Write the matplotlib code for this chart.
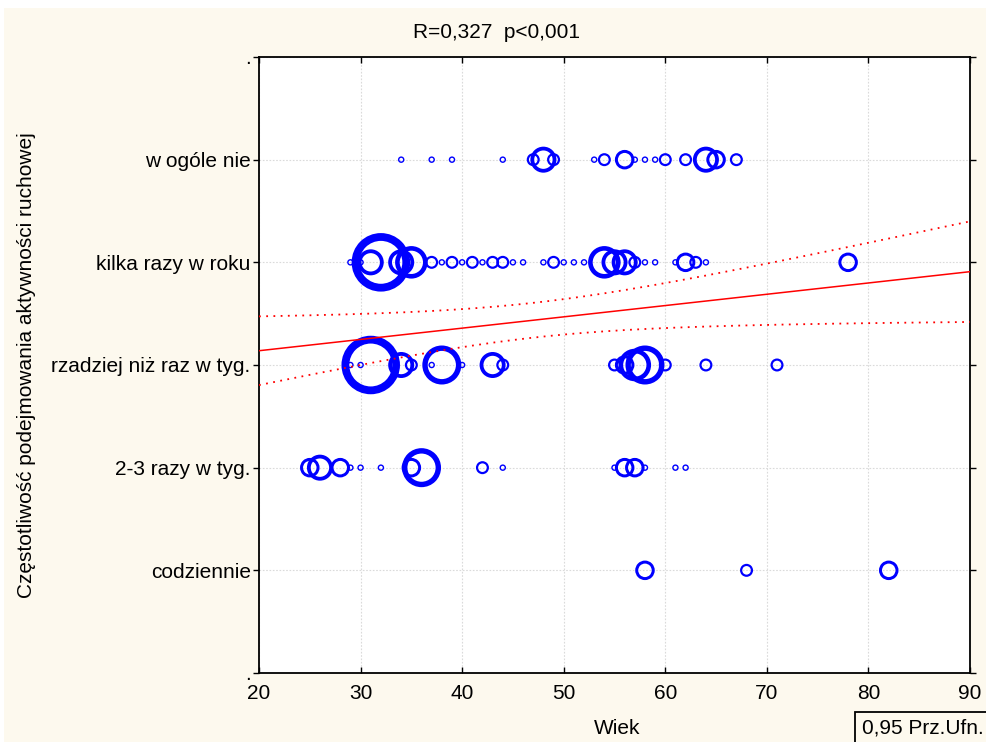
import numpy as np
import matplotlib.pyplot as plt
from matplotlib.patches import Rectangle

plt.rcParams['font.family'] = ['Liberation Sans', 'DejaVu Sans']

categories = ['codziennie', '2-3 razy w tyg.', 'rzadziej niż raz w tyg.',
              'kilka razy w roku', 'w ogóle nie']

# age -> number of respondents, one pair of lists per category
ages_codziennie = [58, 68, 82]
counts_codziennie = [3, 2, 3]
ages_2_3 = [25, 26, 28, 29, 30, 32, 35, 36, 42, 44, 55, 56, 57, 58, 61, 62]
counts_2_3 = [3, 4, 3, 1, 1, 1, 3, 6, 2, 1, 1, 3, 3, 1, 1, 1]
ages_rzadziej = [29, 30, 31, 34, 35, 37, 38, 40, 43, 44, 55, 56, 57, 58, 60, 64, 71]
counts_rzadziej = [1, 1, 9, 4, 2, 1, 6, 1, 4, 2, 2, 3, 5, 6, 2, 2, 2]
ages_kilka = [29, 30, 31, 32, 34, 35, 37, 38, 39, 40, 41, 42, 43, 44, 45, 46,
              48, 49, 50, 51, 52, 54, 55, 56, 57, 58, 59, 61, 62, 63, 64, 78]
counts_kilka = [1, 1, 4, 9, 4, 5, 2, 1, 2, 1, 2, 1, 2, 2, 1, 1,
                1, 2, 1, 1, 1, 5, 4, 4, 2, 1, 1, 1, 3, 2, 1, 3]
ages_nie = [34, 37, 39, 44, 47, 48, 49, 53, 54, 56, 57, 58, 59, 60, 62, 64, 65, 67]
counts_nie = [1, 1, 1, 1, 2, 4, 2, 1, 2, 3, 1, 1, 1, 2, 2, 4, 3, 2]

# linear fit and 0.95 confidence band
fit_intercept = 2.919
fit_slope = 0.011
ci_base = 0.0287
ci_spread = 1.143e-4
ci_center = 47.0

x_ticks = [20, 30, 40, 50, 60, 70, 80, 90]
title_text = 'R=0,327  p<0,001'
fs = 15

W, H = 987, 742
fig = plt.figure(figsize=(W / 100, H / 100), dpi=100, facecolor='white')
fig.patches.append(Rectangle((4 / W, 0), 1, 1 - 8 / H, transform=fig.transFigure,
                             facecolor='#fdf9ee', edgecolor='none', zorder=-10))
ax = fig.add_axes([259 / W, 1 - 673 / H, 711 / W, 616 / H])
ax.set_facecolor('white')

px_pt = 100 / 72.0
rows = [(ages_codziennie, counts_codziennie), (ages_2_3, counts_2_3),
        (ages_rzadziej, counts_rzadziej), (ages_kilka, counts_kilka),
        (ages_nie, counts_nie)]
for level, (ages, counts) in enumerate(rows, start=1):
    n = np.array(counts, dtype=float)
    lw_px = 0.6 + 0.8 * n
    diam_px = 6.5 * n - lw_px
    ax.scatter(ages, np.full(len(ages), level), s=(diam_px / px_pt) ** 2,
               facecolors='none', edgecolors='#0000ff',
               linewidths=lw_px / px_pt, zorder=3)

xs = np.linspace(20, 90, 200)
fit = fit_intercept + fit_slope * xs
half = np.sqrt(ci_base + ci_spread * (xs - ci_center) ** 2)
ax.plot(xs, fit, color='#ff0000', lw=1.1, zorder=4)
ax.plot(xs, fit + half, color='#ff0000', lw=1.3, ls=(0, (1, 3)), zorder=4)
ax.plot(xs, fit - half, color='#ff0000', lw=1.3, ls=(0, (1, 3)), zorder=4)

ax.set_xlim(20, 90)
ax.set_ylim(0, 6)
ax.set_xticks(x_ticks)
ax.set_xticklabels([str(t) for t in x_ticks])
ax.set_yticks(range(0, 7))
ax.set_yticklabels(['.'] + categories + ['.'])
ax.grid(True, color='#dadada', ls=(0, (1.5, 1.5)), lw=0.8, zorder=0)
ax.set_axisbelow(True)
for sp in ax.spines.values():
    sp.set_linewidth(1.3)
ax.tick_params(axis='x', direction='in', top=True, bottom=True, length=4,
               width=1, labelsize=fs, pad=8)
ax.tick_params(axis='y', direction='out', left=True, right=True, length=4,
               width=1, labelsize=fs, pad=2)

fig.text(497 / W, 1 - 32 / H, title_text, ha='center', va='center', fontsize=fs)
fig.text(617 / W, 1 - 728 / H, 'Wiek', ha='center', va='center', fontsize=fs)
fig.text(27 / W, 1 - 365 / H, 'Częstotliwość podejmowania aktywności ruchowej',
         rotation=90, ha='center', va='center', fontsize=fs)
fig.patches.append(Rectangle((855 / W, -0.05), 0.2, 0.05 + 1 - 712 / H,
                             transform=fig.transFigure, facecolor='none',
                             edgecolor='black', lw=1.3))
fig.text(862 / W, 1 - 728 / H, '0,95 Prz.Ufn.', ha='left', va='center', fontsize=fs)

fig.savefig('out.png', dpi=100, facecolor=fig.get_facecolor())
